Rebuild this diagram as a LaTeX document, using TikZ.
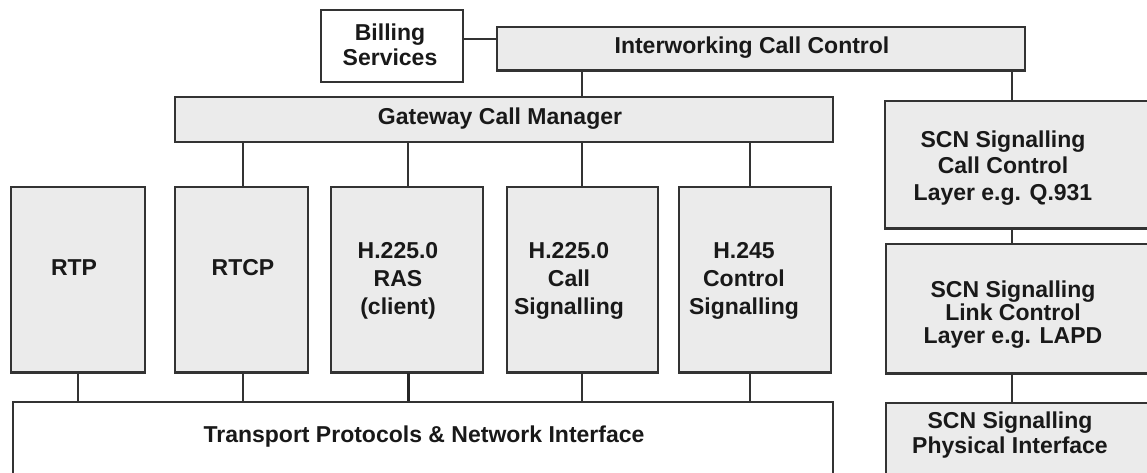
\documentclass[tikz,border=0pt]{standalone}
\usepackage{fontspec}
\setmainfont{Liberation Sans}
\usetikzlibrary{fit}
\begin{document}
\begin{tikzpicture}[x=0.5pt,y=-0.5pt,
  box/.style={draw=black!80, line width=0.9pt, inner sep=0pt},
  greybox/.style={box, fill=black!8},
  whitebox/.style={box, fill=white},
  lbl/.style={font=\bfseries\fontsize{11.5}{13}\selectfont, align=center, inner sep=0pt, text=black!90},
  wire/.style={draw=black!80, line width=0.8pt},
  heavywire/.style={draw=black!85, line width=1.5pt},
  heavybase/.style={draw=black!80, line width=1.5pt},
]
\useasboundingbox (0,0) rectangle (1147,472);
\clip (0,0) rectangle (1147,472);
\fill[white] (0,0) rectangle (1147,472);

% boxes
\node[whitebox, fit={(321,10) (463,82)}] (bill) {};
\node[greybox, fit={(497,27) (1025,70)}] (iwcc) {};
\node[greybox, fit={(175,97) (833,142)}] (gcm) {};
\node[greybox, fit={(11,187) (145,372)}] (rtp) {};
\node[greybox, fit={(175,187) (308,372)}] (rtcp) {};
\node[greybox, fit={(331,187) (483,372)}] (ras) {};
\node[greybox, fit={(507,187) (658,372)}] (call) {};
\node[greybox, fit={(679,187) (831,372)}] (hctl) {};
\node[whitebox, fit={(13,402) (833,490)}] (tp) {};
\node[greybox, fit={(885,101) (1170,228)}] (scncc) {};
\node[greybox, fit={(886,244) (1170,373)}] (scnlink) {};
\node[greybox, fit={(886,403) (1170,490)}] (scnphys) {};

% heavier lower edges
\foreach \b in {iwcc,rtp,rtcp,ras,call,hctl,scncc,scnlink}
  \draw[heavybase] (\b.south west) -- (\b.south east);

% labels
\node[lbl, font=\bfseries\fontsize{11.5}{12.5}\selectfont] (bill-t) at (390,45) {Billing\\Services};
\node[lbl] (iwcc-t) at (752,48) {Interworking Call Control};
\node[lbl] (gcm-t) at (500,119) {Gateway Call Manager};
\node[lbl] (rtp-t) at (74,268) {RTP};
\node[lbl] (rtcp-t) at (243,268) {RTCP};
\node[lbl, font=\bfseries\fontsize{11.5}{14}\selectfont] (ras-t) at (398,281) {H.225.0\\RAS\\(client)};
\node[lbl, font=\bfseries\fontsize{11.5}{14}\selectfont] (call-t) at (569,281) {H.225.0\\Call\\Signalling};
\node[lbl, font=\bfseries\fontsize{11.5}{14}\selectfont] (hctl-t) at (744,281) {H.245\\Control\\Signalling};
\node[lbl] (tp-t) at (424,437) {Transport Protocols \& Network Interface};
\node[lbl, font=\bfseries\fontsize{11.5}{13.3}\selectfont] (scncc-t) at (1003,168) {SCN Signalling\\Call Control\\Layer e.g. Q.931};
\node[lbl, font=\bfseries\fontsize{11.5}{11.5}\selectfont] (scnlink-t) at (1013,315) {SCN Signalling\\Link Control\\Layer e.g. LAPD};
\node[lbl, font=\bfseries\fontsize{11.5}{12.5}\selectfont] (scnphys-t) at (1010,435) {SCN Signalling\\Physical Interface};

% connector rows and columns
\coordinate (billrow) at (0,39);
\coordinate (colA) at (78,0);
\coordinate (colB) at (243,0);
\coordinate (colC) at (408,0);
\coordinate (colD) at (582,0);
\coordinate (colE) at (750,0);
\coordinate (colF) at (1012,0);

% connectors
\draw[wire] (bill.east |- billrow) -- (iwcc.west |- billrow);
\draw[wire] (iwcc.south -| colD) -- (gcm.north -| colD);
\draw[wire] (iwcc.south -| colF) -- (scncc.north -| colF);
\draw[wire] (gcm.south -| colB) -- (rtcp.north -| colB);
\draw[wire] (gcm.south -| colC) -- (ras.north -| colC);
\draw[wire] (gcm.south -| colD) -- (call.north -| colD);
\draw[wire] (gcm.south -| colE) -- (hctl.north -| colE);
\draw[wire] (rtp.south -| colA) -- (tp.north -| colA);
\draw[wire] (rtcp.south -| colB) -- (tp.north -| colB);
\draw[heavywire] (ras.south -| colC) -- (tp.north -| colC);
\draw[wire] (call.south -| colD) -- (tp.north -| colD);
\draw[wire] (hctl.south -| colE) -- (tp.north -| colE);
\draw[wire] (scncc.south -| colF) -- (scnlink.north -| colF);
\draw[wire] (scnlink.south -| colF) -- (scnphys.north -| colF);
\end{tikzpicture}
\end{document}
